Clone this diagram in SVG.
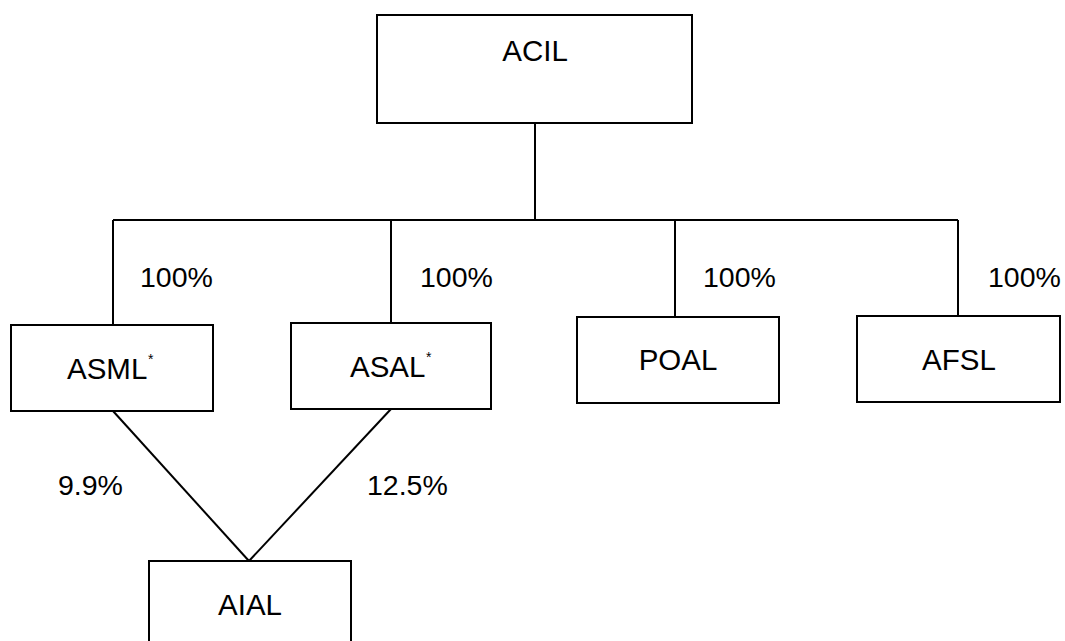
<svg xmlns="http://www.w3.org/2000/svg" width="1065" height="641" viewBox="0 0 1065 641">
<style>
.box{fill:#fff;stroke:#000;stroke-width:2}
.t{font-family:"Liberation Sans",Arial,sans-serif;font-size:28.5px;fill:#000}
.b{font-size:29.5px}
.m{text-anchor:middle}
.s{font-family:"Liberation Sans",Arial,sans-serif;font-size:14px;fill:#000}
.c{stroke:#000;stroke-width:2;fill:none}
</style>
<rect width="1065" height="641" fill="#fff"/>
<g id="connectors">
<line class="c" x1="535" y1="123" x2="535" y2="220"/>
<line class="c" x1="113" y1="220" x2="958" y2="220"/>
<line class="c" x1="113" y1="220" x2="113" y2="325"/>
<line class="c" x1="391" y1="220" x2="391" y2="323"/>
<line class="c" x1="675" y1="220" x2="675" y2="317"/>
<line class="c" x1="958" y1="220" x2="958" y2="316"/>
<line class="c" x1="113" y1="411" x2="249" y2="561"/>
<line class="c" x1="391" y1="409" x2="249" y2="561"/>
<text class="t" x="140" y="287">100%</text>
<text class="t" x="420" y="287">100%</text>
<text class="t" x="703" y="287">100%</text>
<text class="t" x="988" y="287">100%</text>
<text class="t" x="58" y="495">9.9%</text>
<text class="t" x="367" y="495">12.5%</text>
</g>
<g id="ACIL">
<rect class="box" x="377" y="15" width="315" height="108"/>
<text class="t b m" x="535" y="61">ACIL</text>
</g>
<g id="ASML">
<rect class="box" x="11" y="325" width="202" height="86"/>
<text class="t b" x="67" y="379">ASML</text>
<text class="s" x="148" y="364">*</text>
</g>
<g id="ASAL">
<rect class="box" x="291" y="323" width="200" height="86"/>
<text class="t b" x="350" y="377">ASAL</text>
<text class="s" x="426" y="362">*</text>
</g>
<g id="POAL">
<rect class="box" x="577" y="317" width="202" height="86"/>
<text class="t b m" x="678" y="370">POAL</text>
</g>
<g id="AFSL">
<rect class="box" x="857" y="316" width="203" height="86"/>
<text class="t b m" x="959" y="370">AFSL</text>
</g>
<g id="AIAL">
<rect class="box" x="149" y="561" width="202" height="90"/>
<text class="t b m" x="250" y="615">AIAL</text>
</g>
</svg>
